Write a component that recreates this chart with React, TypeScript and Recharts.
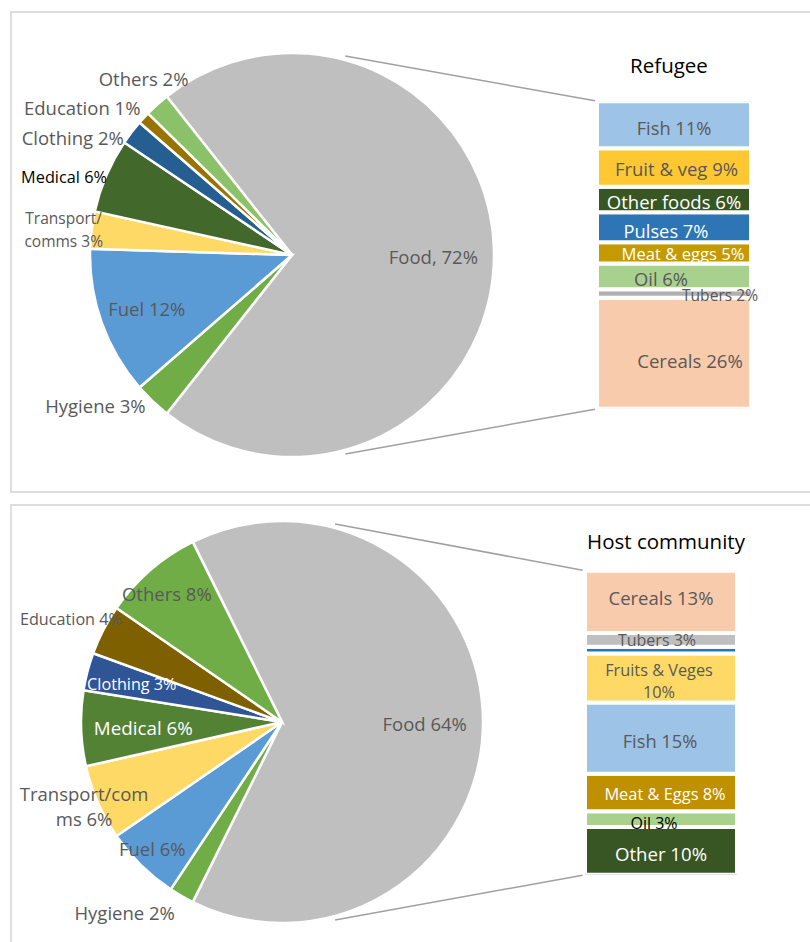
import React from 'react';
import { PieChart, Pie, Cell, BarChart, Bar, XAxis, YAxis } from 'recharts';

const FONT = '"Open Sans", sans-serif';
const GREY = '#595959';

// Refugee: expenditure shares (pie, clockwise from Food)
const refugeeCats = ['Food', 'Hygiene', 'Fuel', 'Transport/comms', 'Medical', 'Clothing', 'Education', 'Others'];
const refugeeShares = [72, 3, 12, 3, 6, 2, 1, 2];
const refugeePieLabels = ['Food, 72%', 'Hygiene 3%', 'Fuel 12%', 'Transport/\ncomms 3%', 'Medical 6%', 'Clothing 2%', 'Education 1%', 'Others 2%'];

// Refugee: food breakdown (bar, top to bottom)
const refugeeFoodCats = ['Fish', 'Fruit & veg', 'Other foods', 'Pulses', 'Meat & eggs', 'Oil', 'Tubers', 'Cereals'];
const refugeeFoodShares = [11, 9, 6, 7, 5, 6, 2, 26];
const refugeeFoodLabels = ['Fish 11%', 'Fruit & veg 9%', 'Other foods 6%', 'Pulses 7%', 'Meat & eggs 5%', 'Oil 6%', 'Tubers 2%', 'Cereals 26%'];

// Host community: expenditure shares
const hostCats = ['Food', 'Hygiene', 'Fuel', 'Transport/comms', 'Medical', 'Clothing', 'Education', 'Others'];
const hostShares = [64, 2, 6, 6, 6, 3, 4, 8];
const hostPieLabels = ['Food 64%', 'Hygiene 2%', 'Fuel 6%', 'Transport/com\nms 6%', 'Medical 6%', 'Clothing 3%', 'Education 4%', 'Others 8%'];

// Host community: food breakdown (top to bottom)
const hostFoodCats = ['Cereals', 'Tubers', 'Pulses', 'Fruits & Veges', 'Fish', 'Meat & Eggs', 'Oil', 'Other'];
const hostFoodShares = [13.15, 2.92, 1.39, 10.36, 15.04, 7.9, 3.34, 10.06];
const hostFoodLabels = ['Cereals 13%', 'Tubers 3%', '', 'Fruits & Veges\n10%', 'Fish 15%', 'Meat & Eggs 8%', 'Oil 3%', 'Other 10%'];

const refugeePieColors = ['#BFBFBF', '#70AD47', '#5B9BD5', '#FFD966', '#43682B', '#255E91', '#997300', '#8BC168'];
const hostPieColors = ['#BFBFBF', '#70AD47', '#5B9BD5', '#FFD966', '#548235', '#2F5597', '#7F6000', '#70AD47'];
const refugeeBarColors = ['#9DC3E6', '#FFC832', '#375623', '#2E75B6', '#C59A00', '#A9D18E', '#B0B0B0', '#F8CBAD'];
const hostBarColors = ['#F8CBAD', '#BFBFBF', '#2E75B6', '#FFD966', '#9DC3E6', '#BF9000', '#A9D18E', '#375623'];

type LStyle = { dx: number; dy: number; size: number; color: string; lh?: number };

const refugeePieStyles: LStyle[] = [
  { dx: 0, dy: 1, size: 18.5, color: GREY },
  { dx: -99, dy: 48, size: 18.5, color: GREY },
  { dx: -12, dy: 6, size: 18.5, color: GREY },
  { dx: -88, dy: -8, size: 15.5, color: GREY, lh: 23 },
  { dx: -98, dy: -22, size: 16.3, color: '#000' },
  { dx: -107, dy: -32, size: 18.5, color: GREY },
  { dx: -106, dy: -52, size: 18.5, color: GREY },
  { dx: -54, dy: -72, size: 18.5, color: GREY },
];
const hostPieStyles: LStyle[] = [
  { dx: 2, dy: 1, size: 18.5, color: GREY },
  { dx: -87, dy: 68, size: 18.5, color: GREY },
  { dx: -31, dy: 26, size: 18.5, color: GREY },
  { dx: -69, dy: 27, size: 18.5, color: GREY, lh: 25.6 },
  { dx: 2, dy: 2, size: 18.8, color: '#fff' },
  { dx: -14, dy: -3, size: 16.2, color: '#fff' },
  { dx: -86, dy: -39, size: 16.2, color: GREY },
  { dx: -23, dy: -23, size: 18.5, color: GREY },
];
const refugeeBarStyles: LStyle[] = [
  { dx: 0, dy: 2, size: 18.3, color: GREY },
  { dx: 2.5, dy: 1, size: 18.5, color: GREY },
  { dx: 0, dy: 2, size: 18.5, color: '#fff' },
  { dx: -8, dy: 3, size: 18.3, color: '#fff' },
  { dx: 9, dy: 0, size: 16.6, color: '#fff' },
  { dx: -13, dy: 2, size: 18.4, color: GREY },
  { dx: 46, dy: 2, size: 15.6, color: GREY },
  { dx: 16, dy: 7, size: 18.6, color: GREY },
];
const hostBarStyles: LStyle[] = [
  { dx: 0, dy: -5, size: 18.5, color: GREY },
  { dx: -4, dy: 0, size: 16, color: GREY },
  { dx: 0, dy: 0, size: 16, color: GREY },
  { dx: -2, dy: 3, size: 16.3, color: GREY, lh: 21.7 },
  { dx: -1, dy: 2, size: 18.3, color: GREY },
  { dx: 4, dy: 1, size: 16.4, color: '#fff' },
  { dx: -7, dy: 4, size: 16, color: '#000' },
  { dx: 0, dy: 2, size: 18.6, color: '#fff' },
];

const multiLine = (x: number, y: number, text: string, s: LStyle, key?: string | number) => {
  const lines = text.split('\n');
  const lh = s.lh ?? s.size * 1.3;
  return (
    <text key={key} x={x} y={y} textAnchor="middle" dominantBaseline="central" fill={s.color} fontSize={s.size} fontFamily={FONT}>
      {lines.map((ln, k) => (
        <tspan key={k} x={x} y={y + (k - (lines.length - 1) / 2) * lh} dominantBaseline="central">
          {ln}
        </tspan>
      ))}
    </text>
  );
};

interface PieProps {
  top: number; height: number; cx: number; cy: number; r: number;
  cats: string[]; shares: number[]; colors: string[]; labels: string[]; styles: LStyle[];
}

const ExpenditurePie = ({ top, height, cx, cy, r, cats, shares, colors, labels, styles }: PieProps) => {
  const data = cats.map((name, i) => ({ name, value: shares[i] }));
  const total = shares.reduce((a, b) => a + b, 0);
  const start = (shares[0] / total) * 180;
  const renderLabel = (p: any) => {
    const i = p.index;
    const s = styles[i];
    const rad = (-p.midAngle * Math.PI) / 180;
    const x = p.cx + p.outerRadius * 0.7 * Math.cos(rad) + s.dx;
    const y = p.cy + p.outerRadius * 0.7 * Math.sin(rad) + s.dy;
    return multiLine(x, y, labels[i], s, 'pl' + i);
  };
  return (
    <div style={{ position: 'absolute', left: 0, top }}>
      <PieChart width={560} height={height} margin={{ top: 0, right: 0, bottom: 0, left: 0 }}>
        <Pie
          data={data}
          dataKey="value"
          cx={cx}
          cy={cy}
          outerRadius={r}
          startAngle={start}
          endAngle={start - 360}
          stroke="#fff"
          strokeWidth={2.5}
          isAnimationActive={false}
          label={renderLabel}
          labelLine={false}
        >
          {data.map((d, i) => (
            <Cell key={d.name} fill={colors[i]} />
          ))}
        </Pie>
      </PieChart>
    </div>
  );
};

interface BarProps {
  top: number; height: number; margin: { top: number; right: number; bottom: number; left: number }; barW: number;
  cats: string[]; shares: number[]; colors: string[]; labels: string[]; styles: LStyle[];
}

const FoodBar = ({ top, height, margin, barW, cats, shares, colors, labels, styles }: BarProps) => {
  const row: Record<string, number | string> = { k: 'Food' };
  cats.forEach((c, i) => (row['s' + i] = shares[i]));
  const total = shares.reduce((a, b) => a + b, 0);
  const order = cats.map((_, i) => i).reverse();
  return (
    <div style={{ position: 'absolute', left: 560, top }}>
      <BarChart width={250} height={height} data={[row]} margin={margin} barSize={barW}>
        <XAxis dataKey="k" hide />
        <YAxis hide type="number" domain={[0, total]} allowDataOverflow />
        {order.map((i) => (
          <Bar
            key={i}
            dataKey={'s' + i}
            stackId="food"
            fill={colors[i]}
            stroke="#fff"
            strokeWidth={4}
            isAnimationActive={false}
            label={(p: any) =>
              labels[i] ? multiLine(p.x + p.width / 2 + styles[i].dx, p.y + p.height / 2 + styles[i].dy, labels[i], styles[i], 'bl' + i) : <g key={'bl' + i} />
            }
          />
        ))}
      </BarChart>
    </div>
  );
};

// layout of the two panels (page coordinates)
const TOP_PIE = { cx: 292, cy: 255, r: 202 };
const TOP_BAR = { left: 599, top: 103.3, bottom: 406.7 };
const BOT_PIE = { cx: 282, cy: 722, r: 201 };
const BOT_BAR = { left: 586.7, top: 572.7, bottom: 872.7 };

const connectors = (pie: { cx: number; cy: number; r: number }, bar: { left: number; top: number; bottom: number }) => {
  const a = (75 * Math.PI) / 180;
  const rr = pie.r + 4;
  const x0 = pie.cx + rr * Math.cos(a);
  return [
    { x1: x0, y1: pie.cy - rr * Math.sin(a), x2: bar.left - 4, y2: bar.top - 2.5 },
    { x1: x0, y1: pie.cy + rr * Math.sin(a), x2: bar.left - 4, y2: bar.bottom + 2.5 },
  ];
};

export default function App() {
  const lines = [...connectors(TOP_PIE, TOP_BAR), ...connectors(BOT_PIE, BOT_BAR)];
  return (
    <div style={{ position: 'absolute', left: 0, top: 0, width: 810, height: 942, overflow: 'hidden', background: '#fff', fontFamily: FONT }}>
      <div style={{ position: 'absolute', left: 10, top: 11, width: 830, height: 482, border: '2px solid #dedede', boxSizing: 'border-box' }} />
      <div style={{ position: 'absolute', left: 10, top: 504, width: 830, height: 470, border: '2px solid #dedede', boxSizing: 'border-box' }} />

      <ExpenditurePie top={0} height={490} {...TOP_PIE} cats={refugeeCats} shares={refugeeShares} colors={refugeePieColors} labels={refugeePieLabels} styles={refugeePieStyles} />
      <ExpenditurePie top={500} height={442} cx={BOT_PIE.cx} cy={BOT_PIE.cy - 500} r={BOT_PIE.r} cats={hostCats} shares={hostShares} colors={hostPieColors} labels={hostPieLabels} styles={hostPieStyles} />

      <FoodBar top={0} height={490} margin={{ top: 101.3, right: 22, bottom: 81.3, left: 0 }} barW={154}
        cats={refugeeFoodCats} shares={refugeeFoodShares} colors={refugeeBarColors} labels={refugeeFoodLabels} styles={refugeeBarStyles} />
      <FoodBar top={500} height={442} margin={{ top: 70.7, right: 48.6, bottom: 67.3, left: 0 }} barW={152}
        cats={hostFoodCats} shares={hostFoodShares} colors={hostBarColors} labels={hostFoodLabels} styles={hostBarStyles} />

      <svg width={810} height={942} style={{ position: 'absolute', left: 0, top: 0, pointerEvents: 'none' }}>
        {lines.map((l, i) => (
          <line key={i} {...l} stroke="#A0A0A0" strokeWidth={1.5} />
        ))}
        <text x={669} y={65} textAnchor="middle" dominantBaseline="central" fontSize={20.5} fontFamily={FONT} fill="#000">Refugee</text>
        <text x={666} y={541} textAnchor="middle" dominantBaseline="central" fontSize={20.5} fontFamily={FONT} fill="#000">Host community</text>
      </svg>
    </div>
  );
}
